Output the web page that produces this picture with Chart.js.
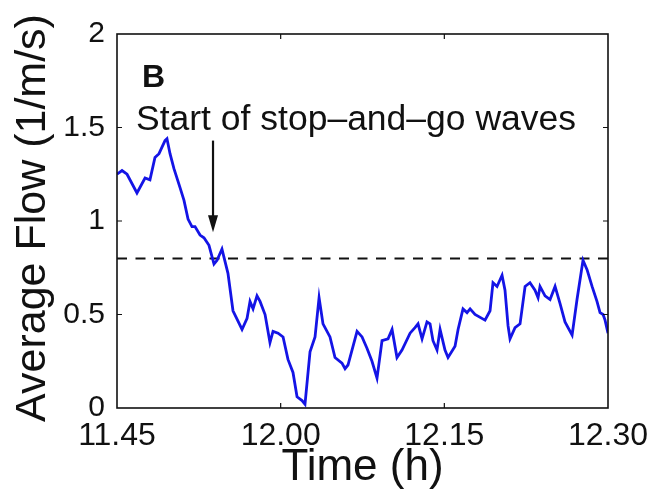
<!DOCTYPE html>
<html>
<head>
<meta charset="utf-8">
<script src="https://cdn.jsdelivr.net/npm/chart.js@4.4.1/dist/chart.umd.min.js"></script>
<style>
    html, body { margin: 0; padding: 0; background: #ffffff; }
    #wrap { width: 654px; height: 493px; }
</style>
</head>
<body>
<div id="wrap"><canvas id="flowChart" width="654" height="493"></canvas></div>
<script>
// Time is minutes after 11:45, flow in 1/m/s
const times = [0, 0.46, 0.92, 1.83, 2.57, 3.02, 3.48, 3.85, 4.40, 4.58, 4.86, 5.22, 5.77, 6.14, 6.51, 6.87, 7.15, 7.61, 7.97, 8.43,
    8.89, 9.17, 9.62, 10.17, 10.63, 11.46, 11.92, 12.19, 12.47, 12.83, 13.11, 13.57, 14.02, 14.30, 14.76, 15.22, 15.67, 16.13, 16.50, 16.96,
    17.23, 17.69, 18.15, 18.52, 18.88, 19.52, 19.98, 20.62, 20.90, 21.17, 22.00, 22.46, 22.91, 23.37, 23.83, 24.29, 24.84, 25.21, 25.66, 26.12,
    26.86, 27.31, 27.59, 27.96, 28.41, 28.69, 28.96, 29.33, 29.61, 30.06, 30.34, 30.98, 31.26, 31.71, 32.08, 32.36, 32.81, 33.73, 34.19, 34.46,
    34.83, 35.29, 35.56, 35.84, 36.02, 36.48, 36.94, 37.40, 37.85, 38.31, 38.59, 38.77, 39.23, 39.69, 40.15, 40.60, 41.06, 41.71, 42.16, 42.71,
    43.08, 43.54, 43.99, 44.27, 44.55, 44.73, 45.0];
const flows = [1.25, 1.27, 1.25, 1.15, 1.23, 1.22, 1.34, 1.36, 1.43, 1.44, 1.36, 1.28, 1.18, 1.11, 1.01, 0.97, 0.97, 0.925, 0.91, 0.87,
    0.77, 0.79, 0.85, 0.72, 0.52, 0.42, 0.48, 0.57, 0.53, 0.60, 0.57, 0.50, 0.35, 0.41, 0.40, 0.38, 0.26, 0.19, 0.06, 0.04,
    0.02, 0.30, 0.38, 0.59, 0.45, 0.38, 0.27, 0.24, 0.21, 0.23, 0.41, 0.38, 0.32, 0.25, 0.16, 0.36, 0.37, 0.42, 0.27, 0.31,
    0.40, 0.43, 0.45, 0.37, 0.46, 0.45, 0.36, 0.31, 0.42, 0.31, 0.27, 0.33, 0.42, 0.53, 0.51, 0.53, 0.50, 0.47, 0.52, 0.67,
    0.65, 0.71, 0.63, 0.44, 0.37, 0.43, 0.45, 0.65, 0.67, 0.63, 0.59, 0.65, 0.60, 0.58, 0.65, 0.56, 0.46, 0.39, 0.58, 0.79,
    0.74, 0.65, 0.57, 0.51, 0.50, 0.47, 0.40];

const tickTimes = [0, 15, 30, 45];
const tickLabels = ["11.45", "12.00", "12.15", "12.30"];
const yTicks = [0, 0.5, 1, 1.5, 2];
const yTickLabels = ["0", "0.5", "1", "1.5", "2"];

const thresholdFlow = 0.8;
const arrowTime = 8.8;
const arrowFrom = 1.43;
const arrowTo = 0.94;
const noteText = "Start of stop\u2013and\u2013go waves";
const panelLetter = "B";
const yTitle = "Average Flow (1/m/s)";

const FONT = "'Liberation Sans', Arial, Helvetica, sans-serif";
const INK = "#111111";

// box, inward ticks, arrow and labels inside the axes
const decorations = {
    id: "decorations",
    afterDatasetsDraw(chart) {
        const ctx = chart.ctx;
        const area = chart.chartArea;
        const x = chart.scales.x;
        const y = chart.scales.y;

        ctx.save();
        ctx.strokeStyle = INK;
        ctx.lineWidth = 1.6;
        ctx.strokeRect(area.left, area.top, area.right - area.left, area.bottom - area.top);

        ctx.lineWidth = 1.2;
        ctx.beginPath();
        yTicks.slice(1, -1).forEach(function (v) {
            const py = y.getPixelForValue(v);
            ctx.moveTo(area.left, py);
            ctx.lineTo(area.left + 5, py);
            ctx.moveTo(area.right, py);
            ctx.lineTo(area.right - 5, py);
        });
        tickTimes.slice(1, -1).forEach(function (t) {
            const px = x.getPixelForValue(t);
            ctx.moveTo(px, area.bottom);
            ctx.lineTo(px, area.bottom - 5);
            ctx.moveTo(px, area.top);
            ctx.lineTo(px, area.top + 5);
        });
        ctx.stroke();

        // arrow
        const ax = x.getPixelForValue(arrowTime);
        const ay0 = y.getPixelForValue(arrowFrom);
        const ay1 = y.getPixelForValue(arrowTo);
        ctx.lineWidth = 2.2;
        ctx.beginPath();
        ctx.moveTo(ax, ay0);
        ctx.lineTo(ax, ay1 - 14);
        ctx.stroke();
        ctx.fillStyle = INK;
        ctx.beginPath();
        ctx.moveTo(ax, ay1);
        ctx.lineTo(ax - 5, ay1 - 17);
        ctx.lineTo(ax + 5, ay1 - 17);
        ctx.closePath();
        ctx.fill();

        // texts
        ctx.fillStyle = INK;
        ctx.textAlign = "left";
        ctx.textBaseline = "alphabetic";
        ctx.font = "bold 32px " + FONT;
        ctx.fillText(panelLetter, x.getPixelForValue(2.29), y.getPixelForValue(1.717));
        ctx.font = "35.5px " + FONT;
        ctx.fillText(noteText, x.getPixelForValue(1.74), y.getPixelForValue(1.487));

        // y axis title, a little above the middle of the axis as in the figure
        ctx.save();
        ctx.translate(33, (area.top + area.bottom) / 2 - 3);
        ctx.rotate(-Math.PI / 2);
        ctx.textAlign = "center";
        ctx.textBaseline = "middle";
        ctx.font = "43px " + FONT;
        ctx.fillText(yTitle, 0, 0);
        ctx.restore();
        ctx.restore();
    }
};

const points = times.map(function (t, i) { return { x: t, y: flows[i] }; });
const threshold = [
    { x: tickTimes[0], y: thresholdFlow },
    { x: tickTimes[tickTimes.length - 1], y: thresholdFlow }
];

new Chart(document.getElementById("flowChart"), {
    type: "line",
    data: {
        datasets: [
            {
                label: "Average flow",
                data: points,
                borderColor: "#1414e6",
                borderWidth: 2.8,
                pointRadius: 0,
                tension: 0
            },
            {
                label: "Threshold",
                data: threshold,
                borderColor: INK,
                borderWidth: 2,
                borderDash: [10, 8.5],
                pointRadius: 0
            }
        ]
    },
    options: {
        responsive: false,
        animation: false,
        events: [],
        layout: { padding: { left: 0, top: 34, right: 46, bottom: 0 } },
        plugins: {
            legend: { display: false },
            tooltip: { enabled: false }
        },
        scales: {
            x: {
                type: "linear",
                min: 0,
                max: 45,
                afterBuildTicks: function (scale) {
                    scale.ticks = tickTimes.map(function (t) { return { value: t }; });
                },
                afterFit: function (scale) {
                    scale.height = 85;
                    scale.paddingLeft = 0;
                    scale.paddingRight = 0;
                },
                grid: { display: false, drawTicks: false },
                border: { display: false },
                ticks: {
                    color: INK,
                    padding: 9,
                    maxRotation: 0,
                    font: { family: FONT, size: 32 },
                    callback: function (value) { return tickLabels[tickTimes.indexOf(value)]; }
                },
                title: {
                    display: true,
                    text: "Time (h)",
                    color: INK,
                    font: { family: FONT, size: 44, lineHeight: 1 },
                    padding: { top: 0, bottom: 3 }
                }
            },
            y: {
                min: 0,
                max: 2,
                afterBuildTicks: function (scale) {
                    scale.ticks = yTicks.map(function (v) { return { value: v }; });
                },
                afterFit: function (scale) {
                    scale.width = 117;
                    scale.paddingTop = 0;
                    scale.paddingBottom = 0;
                },
                grid: { display: false, drawTicks: false },
                border: { display: false },
                ticks: {
                    color: INK,
                    padding: 12,
                    font: { family: FONT, size: 30 },
                    callback: function (value) { return yTickLabels[yTicks.indexOf(value)]; }
                }
            }
        }
    },
    plugins: [decorations]
});
</script>
</body>
</html>
